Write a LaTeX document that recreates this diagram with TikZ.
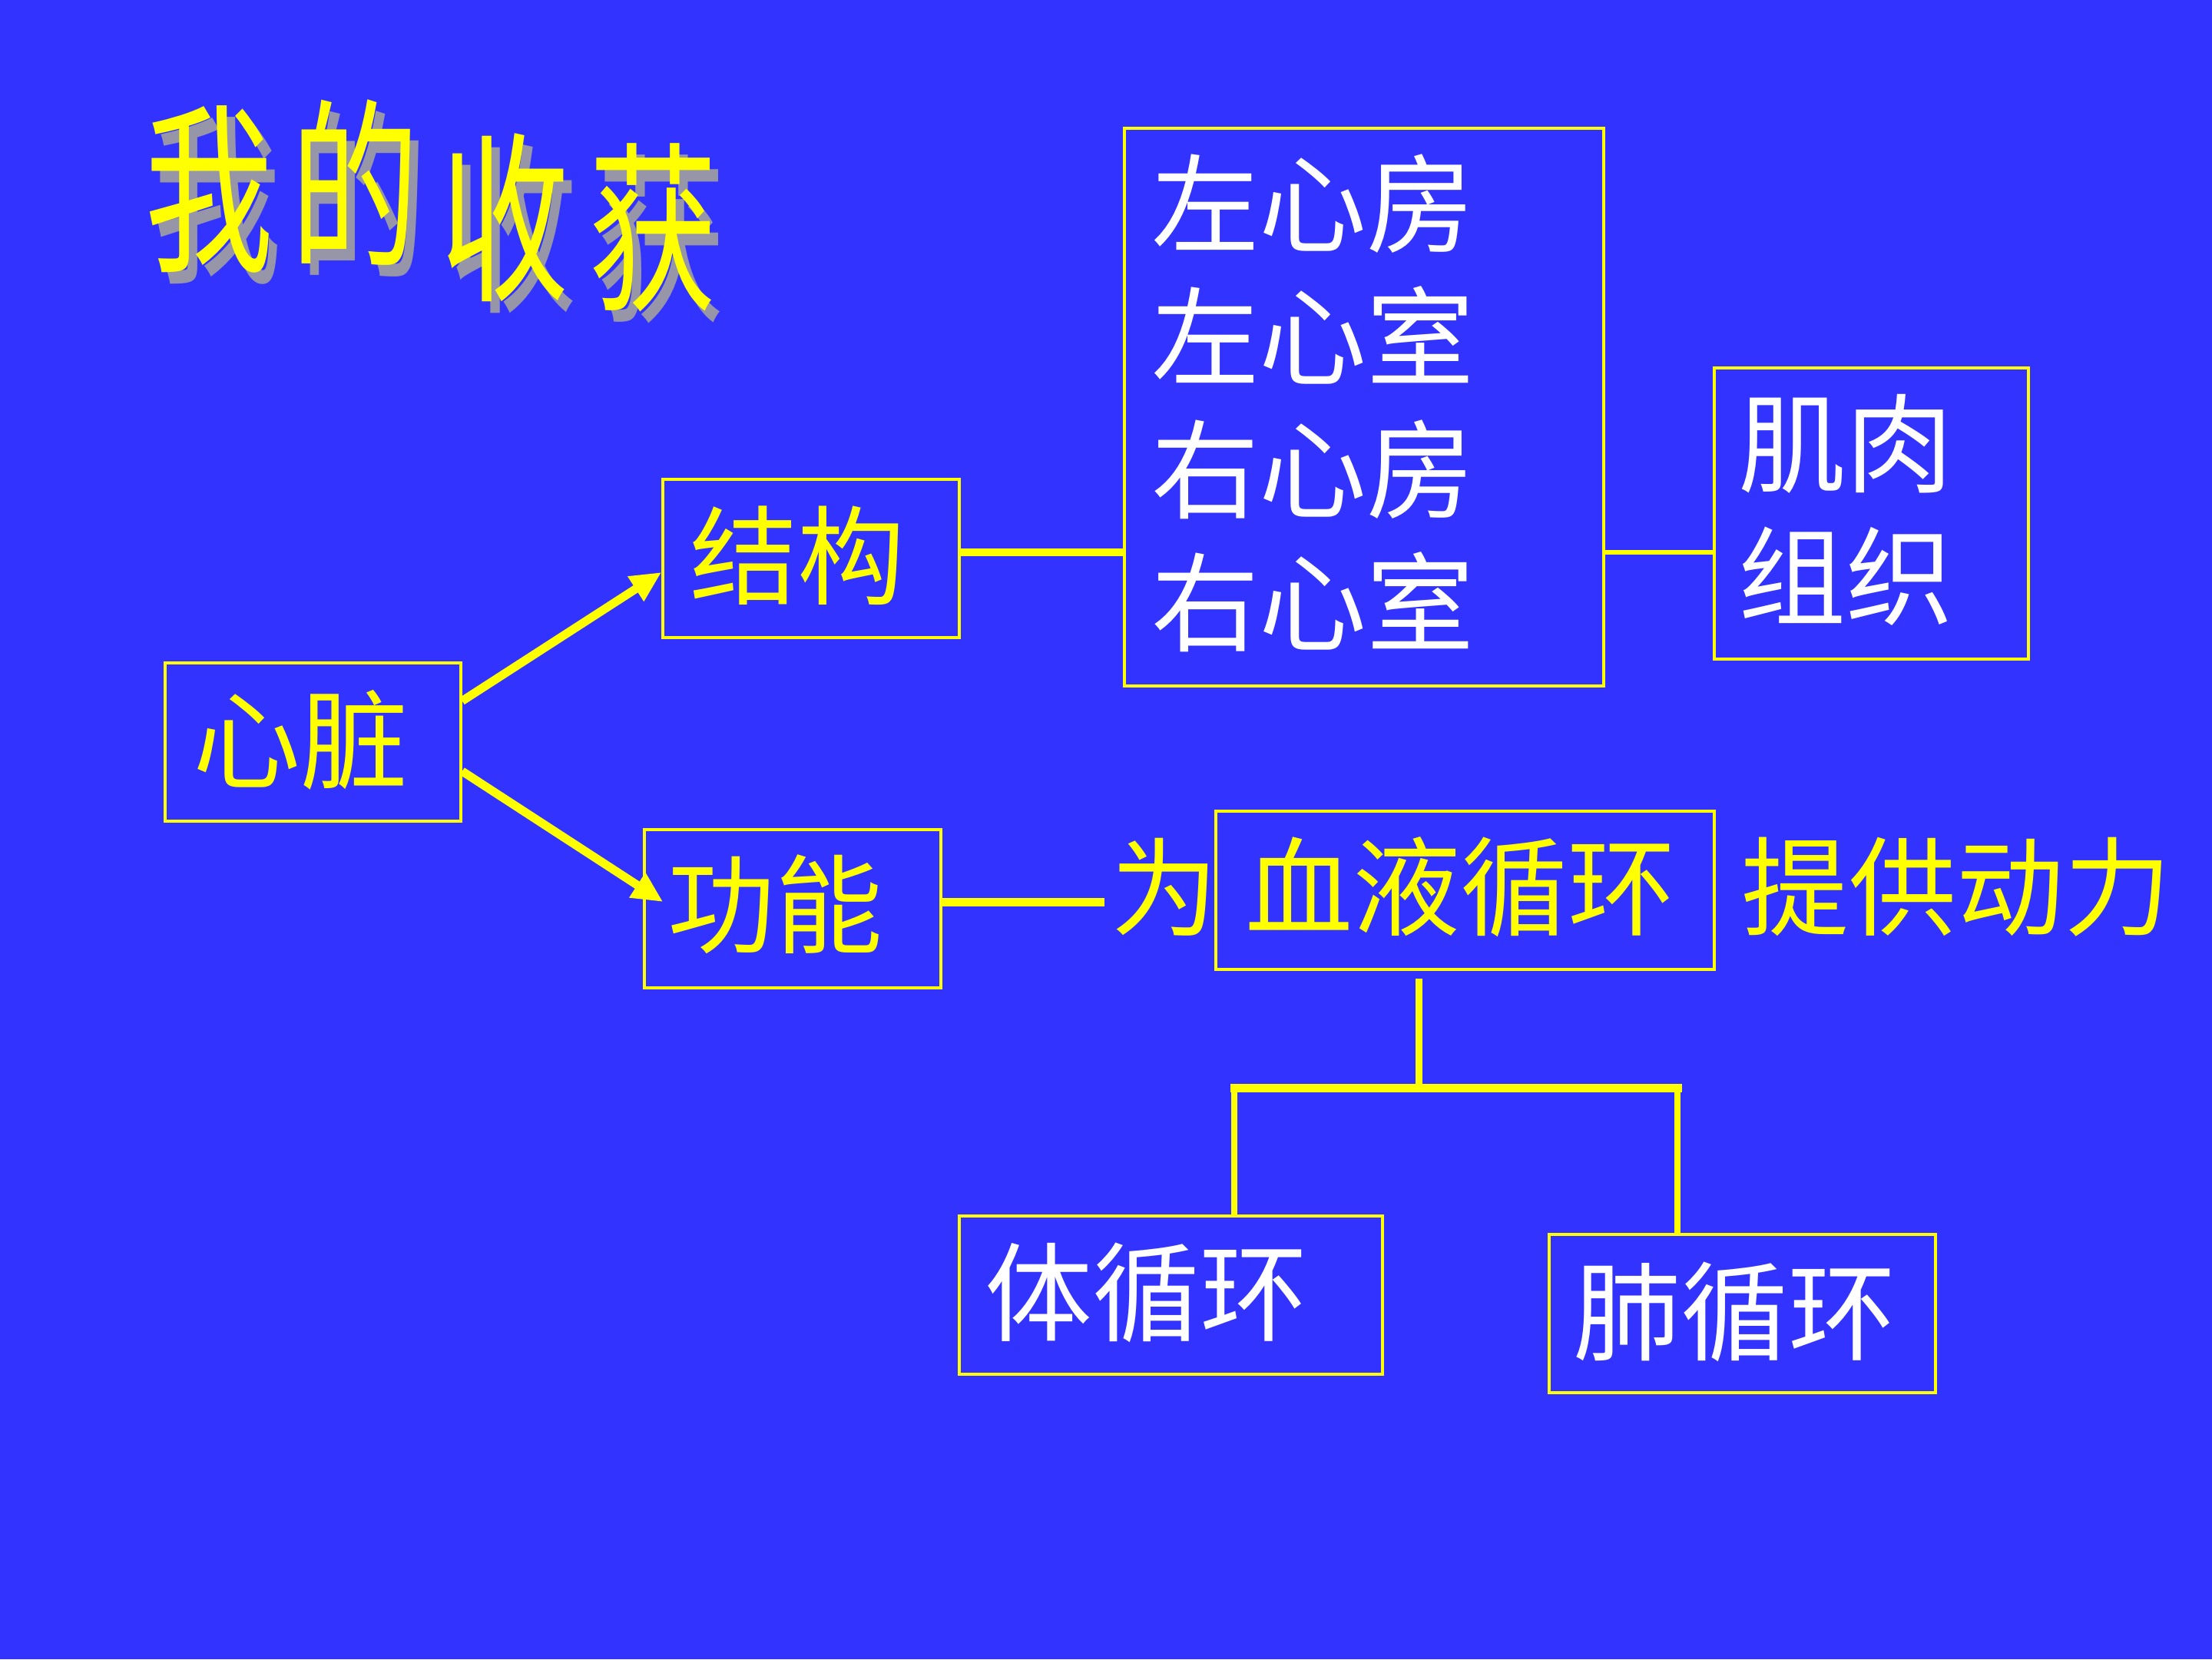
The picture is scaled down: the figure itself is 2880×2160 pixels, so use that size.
\documentclass[tikz,border=0pt]{standalone}
\usepackage{fontspec}
\newfontfamily\cjk{Noto Sans CJK SC}
\usetikzlibrary{arrows.meta,calc}
\definecolor{bg}{RGB}{51,51,255}
\definecolor{yel}{RGB}{255,255,0}
\definecolor{shad}{RGB}{150,150,168}
\newcommand{\shadowed}[1]{\makebox[0pt][l]{\hspace*{13pt}\raisebox{-12pt}{\textcolor{shad}{#1}}}\textcolor{yel}{#1}}
\begin{document}
\begin{tikzpicture}[x=1pt,y=-1pt,
  box/.style={draw=yel, line width=3.5pt, inner sep=0pt, fill=none},
  ytxt/.style={text=yel, inner sep=0pt, font=\cjk\fontsize{140}{173}\selectfont},
  wtxt/.style={text=white, inner sep=0pt, font=\cjk\fontsize{140}{173}\selectfont},
  ttl/.style={inner sep=0pt, font=\cjk\fontsize{195}{200}\selectfont, yscale=1.22, xscale=0.86},
  arr/.style={draw=yel, line width=11pt, -{Triangle[length=40pt,width=36pt]}},
  conn/.style={draw=yel, line width=#1},
]
\fill[bg] (0,0) rectangle (2880,2160);
\useasboundingbox (0,0) rectangle (2880,2160);

% title with shadow
\node[ttl] (t1) at (272,254) {\shadowed{我}};
\node[ttl] (t2) at (462,245) {\shadowed{的}};
\node[ttl] (t3) at (657,291) {\shadowed{收}};
\node[ttl] (t4) at (850,304) {\shadowed{获}};

% boxes
\node[box, minimum width=385pt, minimum height=206pt] (xz) at (407.5,966) {};
\node[ytxt] (xzt) at ($(xz.center)+(-16,-3)$) {心脏};

\node[box, minimum width=386pt, minimum height=206pt] (jg) at (1056,727) {};
\node[ytxt] (jgt) at ($(jg.center)+(-18,-4)$) {结构};

\node[box, minimum width=386pt, minimum height=206pt] (gn) at (1032,1183) {};
\node[ytxt] (gnt) at ($(gn.center)+(-23,-6)$) {功能};

\node[box, minimum width=624pt, minimum height=726pt] (ch) at (1776,530) {};
\node[wtxt, align=left] (cht) at (1709.5,525) {左心房\\左心室\\右心房\\右心室};

\node[box, minimum width=409pt, minimum height=379pt] (jr) at (2436.5,668.5) {};
\node[wtxt, align=left] (jrt) at (2403,663.5) {肌肉\\组织};

\node[box, minimum width=649pt, minimum height=206pt] (xy) at (1907.5,1159) {};
\node[ytxt] (xyt) at ($(xy.center)+(-6,-4.5)$) {血液循环};

\node[ytxt] (wei) at (1516,1155) {为};
\node[ytxt] (tg) at (2547,1155) {提供动力};

\node[box, minimum width=551pt, minimum height=206pt] (tx) at (1524.5,1686) {};
\node[wtxt] (txt) at ($(tx.center)+(-32,-3)$) {体循环};

\node[box, minimum width=503pt, minimum height=206pt] (fx) at (2268.5,1710) {};
\node[wtxt] (fxt) at ($(fx.center)+(-10,-2)$) {肺循环};

% arrows
\draw[arr] ($(xz.east)+(0,-53.5)$) -- ($(jg.west)+(0,18)$);
\draw[arr] ($(xz.east)+(0,38)$) -- ($(gn.west)+(26,-9)$);

% connectors
\draw[conn=10pt] ($(jg.east)+(0,-8)$) -- ($(ch.west)+(0,189)$);
\draw[conn=6pt] ($(ch.east)+(0,189)$) -- ($(jr.west)+(0,50.5)$);
\draw[conn=11pt] ($(gn.east)+(0,-8.5)$) -- ($(wei.west)+(-8,19.5)$);

\coordinate (bm) at (1847,1416);
\coordinate (bl) at (1607,1416);
\coordinate (brr) at (2184,1416);
\draw[conn=9pt] ($(xy.south)+(-60.5,10)$) -- (bm);
\draw[conn=11pt, line cap=rect] (bl) -- (brr);
\draw[conn=8pt] (bl) -- (bl |- tx.north);
\draw[conn=8pt] (brr) -- (brr |- fx.north);
\end{tikzpicture}
\end{document}
